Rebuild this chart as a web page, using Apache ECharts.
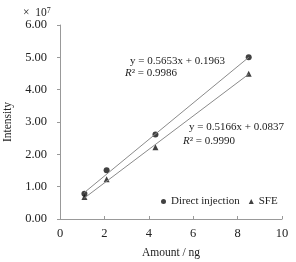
<!DOCTYPE html>
<html><head><meta charset="utf-8">
<script src="https://cdn.jsdelivr.net/npm/echarts@6/dist/echarts.min.js"></script>
<style>html,body{margin:0;padding:0;background:#fff}#c{width:296px;height:262px}</style>
</head><body><div id="c"></div>
<script>
const amount = [1.1, 2.1, 4.3, 8.5];
const directValues = [0.78, 1.51, 2.61, 5.0];
const sfeValues = [0.68, 1.23, 2.22, 4.49];
const directFitX = [1.1, 8.5];
const directFitY = [0.82, 5.0];
const sfeFitX = [1.1, 8.5];
const sfeFitY = [0.65, 4.48];
const yTicks = ['0.00','1.00','2.00','3.00','4.00','5.00','6.00'];
const xTicks = ['0','2','4','6','8','10'];
const directEq = 'y = 0.5653x + 0.1963';
const directR2 = '0.9986';
const sfeEq = 'y = 0.5166x + 0.0837';
const sfeR2 = '0.9990';

const FONT = '"Liberation Serif", "Times New Roman", serif';
const TXT = '#222';
const AX = '#999';
const pair = (xs, ys) => xs.map((x, i) => [x, ys[i]]);

const chart = echarts.init(document.getElementById('c'));
chart.setOption({
  animation: false,
  textStyle: {fontFamily: FONT, color: TXT},
  grid: {left: 60, right: 14, top: 25, bottom: 43, containLabel: false, outerBoundsMode: 'none'},
  xAxis: {
    type: 'value', min: 0, max: 10, interval: 2,
    name: 'Amount / ng', nameLocation: 'middle', nameGap: 28,
    nameTextStyle: {fontFamily: FONT, fontSize: 11.5, color: TXT},
    axisLine: {lineStyle: {color: AX}},
    axisTick: {inside: true, length: 3, lineStyle: {color: AX}},
    axisLabel: {fontFamily: FONT, fontSize: 12.5, color: TXT, margin: 8,
      formatter: v => xTicks[Math.round(v / 2)]},
    splitLine: {show: false}
  },
  yAxis: {
    type: 'value', min: 0, max: 6, interval: 1,
    name: 'Intensity', nameLocation: 'middle', nameGap: 40,
    nameTextStyle: {fontFamily: FONT, fontSize: 11.5, color: TXT},
    axisLine: {show: true, lineStyle: {color: AX}},
    axisTick: {show: true, length: 3, lineStyle: {color: AX}},
    axisLabel: {fontFamily: FONT, fontSize: 12.5, color: TXT, margin: 13,
      formatter: v => yTicks[Math.round(v)]},
    splitLine: {show: false}
  },
  legend: {
    left: 161, top: 196, padding: 0, itemGap: 9, itemWidth: 5, itemHeight: 5,
    textStyle: {fontFamily: FONT, fontSize: 11, color: TXT},
    data: [{name: 'Direct injection', icon: 'circle'}, {name: 'SFE', icon: 'triangle'}]
  },
  series: [
    {name: 'Direct fit', type: 'line', data: pair(directFitX, directFitY), symbol: 'none', silent: true,
      lineStyle: {color: '#8a8a8a', width: 1}},
    {name: 'SFE fit', type: 'line', data: pair(sfeFitX, sfeFitY), symbol: 'none', silent: true,
      lineStyle: {color: '#8a8a8a', width: 1}},
    {name: 'Direct injection', type: 'scatter', data: pair(amount, directValues),
      symbol: 'circle', symbolSize: 6, itemStyle: {color: '#111'}},
    {name: 'SFE', type: 'scatter', data: pair(amount, sfeValues),
      symbol: 'triangle', symbolSize: 6, itemStyle: {color: '#111'}}
  ],
  graphic: [
    {type: 'text', left: 23, top: 7, style: {
      text: '{a|×  10}{s|7}', fill: TXT,
      rich: {a: {fontFamily: FONT, fontSize: 11.5, fill: TXT}, s: {fontFamily: FONT, fontSize: 8, fill: TXT, verticalAlign: 'top'}}}},
    {type: 'text', left: 130, top: 56, style: {text: directEq, font: '11px ' + FONT, fill: TXT}},
    {type: 'text', left: 125, top: 68, style: {
      text: '{i|R}² = ' + directR2, font: '11px ' + FONT, fill: TXT,
      rich: {i: {fontFamily: FONT, fontSize: 11, fontStyle: 'italic', fill: TXT}}}},
    {type: 'text', left: 189, top: 122, style: {text: sfeEq, font: '11px ' + FONT, fill: TXT}},
    {type: 'text', left: 183, top: 136, style: {
      text: '{i|R}² = ' + sfeR2, font: '11px ' + FONT, fill: TXT,
      rich: {i: {fontFamily: FONT, fontSize: 11, fontStyle: 'italic', fill: TXT}}}}
  ]
});
</script></body></html>
